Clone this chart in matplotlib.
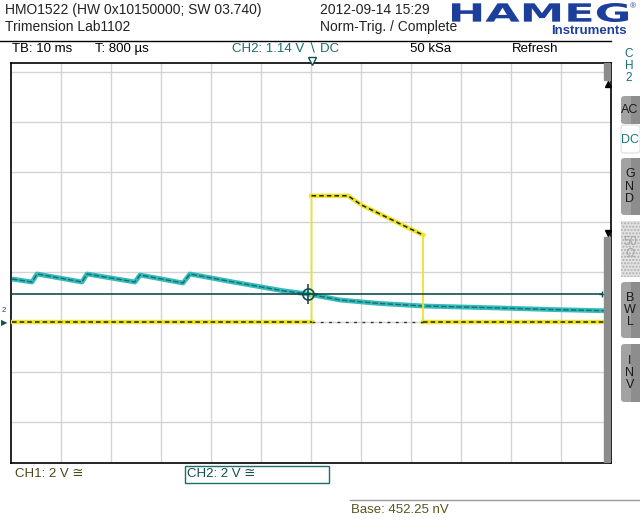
"""
HMO1522 scope screen: CH1 pulse and CH2 decay with trigger marker
"""

import matplotlib.pyplot as plt
import numpy as np
from matplotlib.patches import Rectangle, FancyBboxPatch, PathPatch
from matplotlib.textpath import TextPath
from matplotlib.font_manager import FontProperties
from matplotlib.transforms import Affine2D

# data (time in ms, voltage in V, both channels 2 V/div)
ch1_t = [-59.8, 0.1, 0.1, 7.4, 10.1, 22.4, 22.4, 58.8]
ch1_v = [0.0, 0.0, 5.05, 5.05, 4.68, 3.48, 0.0, 0.0]

ch2_t = [-59.8, -55.8, -54.8, -45.8, -44.8, -35.2, -34.2, -25.6, -24.2,
         -15.6, -5.6, -0.6, 5.8, 13.8, 22.4, 37.8, 47.8, 58.8]
ch2_v = [1.72, 1.60, 1.92, 1.60, 1.92, 1.60, 1.88, 1.56, 1.92,
         1.60, 1.25, 1.12, 0.88, 0.74, 0.64, 0.56, 0.50, 0.45]

trig_level = 1.14
trig_time = -0.6
x_ticks = np.arange(-50, 51, 10)
y_ticks = np.arange(-4, 11, 2)

W, H = 640, 520
FONT = ['Liberation Sans', 'DejaVu Sans']
plt.rcParams['font.family'] = FONT

YEL = '#ece42a'
TEAL = '#33bcbc'
DTEAL = '#124f4f'
OLIVE = '#4a4a18'


def fx(x):
    return x / W


def fy(y):
    return 1 - y / H


fig = plt.figure(figsize=(6.4, 5.2), dpi=100)
fig.patch.set_facecolor('white')

ax = fig.add_axes([fx(11), fy(463), 600 / W, 400 / H])
ax.set_xlim(-60, 60)
ax.set_ylim(-(463 - 322) / 25, (322 - 63) / 25)
ax.set_xticks(x_ticks)
ax.set_yticks(y_ticks)
ax.tick_params(length=0, labelbottom=False, labelleft=False)
ax.grid(True, color='#d4d4d4', linewidth=1)
ax.set_axisbelow(True)
for s in ax.spines.values():
    s.set_linewidth(1.2)
    s.set_color('black')

# right hand scroll bar inside the screen
bx0 = (604 - 11) / 600
ax.add_patch(Rectangle((bx0, 1 - 17 / 400), 1 - bx0, 17 / 400,
                       transform=ax.transAxes, color='#8c8c8c', zorder=5))
ax.add_patch(Rectangle((bx0, 0), 1 - bx0, (463 - 237) / 400,
                       transform=ax.transAxes, color='#8c8c8c', zorder=5))
ax.plot([1 - 3.5 / 600], [1 - 21 / 400], marker='^', color='black',
        markersize=5, transform=ax.transAxes, zorder=6)
ax.plot([1 - 3.5 / 600], [1 - 170 / 400], marker='v', color='black',
        markersize=5, transform=ax.transAxes, zorder=6)

# CH2 trace
ax.plot(ch2_t, ch2_v, color=TEAL, linewidth=3.5, solid_capstyle='butt', zorder=3)
ax.plot(ch2_t, ch2_v, color='#1f6a6a', linewidth=1.0, dashes=(4, 1.5), zorder=3)

# CH1 trace: thin edges, thick flat parts with dark speckle
ax.plot(ch1_t, ch1_v, color=YEL, linewidth=1.3, zorder=3)
start = 0
for i in range(1, len(ch1_t) + 1):
    if i == len(ch1_t) or ch1_t[i] == ch1_t[i - 1]:
        seg_t = ch1_t[start:i]
        seg_v = ch1_v[start:i]
        ax.plot(seg_t, seg_v, color=YEL, linewidth=3.2, zorder=3)
        ax.plot(seg_t, seg_v, color='#222200', linewidth=1.1,
                dashes=(3, 2), zorder=3)
        start = i

# ground reference under the pulse
ax.plot([ch1_t[2], ch1_t[5]], [0, 0], color='#333333', linewidth=1,
        dashes=(2, 4), zorder=3)

# trigger level line and crosshair
ax.plot([ch2_t[0], 58.2], [trig_level, trig_level], color=DTEAL,
        linewidth=1.2, zorder=4)
ax.plot([58.2], [trig_level], marker='+', color=DTEAL, markersize=5, zorder=4)
ax.plot([trig_time], [trig_level], marker='o', markerfacecolor='none',
        markeredgecolor=DTEAL, markersize=8, markeredgewidth=1.2, zorder=4)
ax.plot([trig_time], [trig_level], marker='+', color=DTEAL, markersize=14,
        markeredgewidth=1.2, zorder=4)

# trigger position marker on top and ground markers on the left
ax.plot([0.1], [ax.get_ylim()[1] + 0.1], marker='v', markerfacecolor='white',
        markeredgecolor=DTEAL, markersize=6, clip_on=False, zorder=6)
fig.text(fx(2), fy(311), '2', fontsize=5.5, color=DTEAL, va='center')
fig.text(fx(1), fy(323), '\u25b6', fontsize=6, color=DTEAL, va='center',
         family=['DejaVu Sans'])

# header
fig.text(fx(5), fy(10), 'HMO1522 (HW 0x10150000; SW 03.740)', fontsize=10,
         va='center', color='#222222')
fig.text(fx(5), fy(27), 'Trimension Lab1102', fontsize=10, va='center',
         color='#222222')
fig.text(fx(320), fy(10), '2012-09-14 15:29', fontsize=10, va='center',
         color='#222222')
fig.text(fx(320), fy(27), 'Norm-Trig. / Complete', fontsize=10, va='center',
         color='#222222')
fig.add_artist(plt.Line2D([0, fx(611)], [fy(40.5), fy(40.5)], color='black',
                          linewidth=1, transform=fig.transFigure))

# HAMEG logo, stretched wide
tp = TextPath((0, 0), 'HAMEG', size=1,
              prop=FontProperties(family='DejaVu Sans', weight='bold'))
bb = tp.get_extents()
tr = (Affine2D().translate(-bb.x0, -bb.y0)
      .scale(176 / W / bb.width, 19 / H / bb.height)
      .translate(fx(452), fy(22)))
fig.add_artist(PathPatch(tp, transform=tr + fig.transFigure,
                         color='#1d3f9c', linewidth=0))
fig.text(fx(630), fy(7), '\u00ae', fontsize=6, va='center', color='#1d3f9c')
fig.text(fx(627), fy(31), 'Instruments', fontsize=9.5, fontweight='bold',
         ha='right', va='center', color='#1d3f9c')

# second header row
row_y = fy(49)
fig.text(fx(12), row_y, 'TB: 10 ms', fontsize=9.5, va='center')
fig.text(fx(95), row_y, 'T: 800 \u00b5s', fontsize=9.5, va='center')
fig.text(fx(232), row_y, 'CH2: 1.14 V \u2216 DC', fontsize=9.5, va='center',
         color='#1b6e6e')
fig.text(fx(410), row_y, '50 kSa', fontsize=9.5, va='center')
fig.text(fx(512), row_y, 'Refresh', fontsize=9.5, va='center')

# right side menu
fig.text(fx(629), fy(66), 'C\nH\n2', fontsize=8.5, ha='center', va='center',
         color='#1b6e6e', linespacing=0.95)
buttons = [('AC', 96, 124), ('GND', 158, 215), ('BWL', 282, 338), ('INV', 344, 402)]
for label, y0, y1 in buttons:
    fig.add_artist(FancyBboxPatch((fx(621), fy(y1)), fx(19), (y1 - y0) / H,
                                  boxstyle='round,pad=0,rounding_size=0.006',
                                  transform=fig.transFigure, facecolor='#a2a2a2',
                                  edgecolor='none'))
    fig.add_artist(Rectangle((fx(631), fy(y1)), fx(9), (y1 - y0) / H,
                             transform=fig.transFigure, facecolor='#8d8d8d',
                             edgecolor='none'))
    txt = label if len(label) == 2 else '\n'.join(label)
    fig.text(fx(630), fy((y0 + y1) / 2), txt, fontsize=9, ha='center',
             va='center', color='#1a1a1a', linespacing=1.05)
fig.add_artist(FancyBboxPatch((fx(621), fy(153)), fx(19), 28 / H,
                              boxstyle='round,pad=0,rounding_size=0.006',
                              transform=fig.transFigure, facecolor='white',
                              edgecolor='#dddddd', linewidth=0.8))
fig.text(fx(630), fy(140), 'DC', fontsize=9, ha='center', va='center',
         color='#1b7878')
fig.add_artist(Rectangle((fx(621), fy(277)), fx(19), 56 / H,
                         transform=fig.transFigure, facecolor='#e2e2e2',
                         edgecolor='#b0b0b0', hatch='.....', linewidth=0))
fig.text(fx(630), fy(248), '50\n\u03a9', fontsize=9, ha='center', va='center',
         color='#a8a8a8', linespacing=1.1)

# bottom status
fig.text(fx(15), fy(474), 'CH1: 2 V \u2245', fontsize=9.5, va='center',
         color=OLIVE)
fig.add_artist(Rectangle((fx(185), fy(483)), fx(144), 17 / H,
                         transform=fig.transFigure, facecolor='white',
                         edgecolor='#1b6e6e', linewidth=1))
fig.text(fx(187), fy(474), 'CH2: 2 V \u2245', fontsize=9.5, va='center',
         color=DTEAL)
fig.add_artist(plt.Line2D([fx(350), 1], [fy(500), fy(500)], color='#999999',
                          linewidth=1, transform=fig.transFigure))
fig.text(fx(351), fy(510), 'Base: 452.25 nV', fontsize=9.5, va='center',
         color='#55551c')

fig.savefig('out.png', dpi=100)
